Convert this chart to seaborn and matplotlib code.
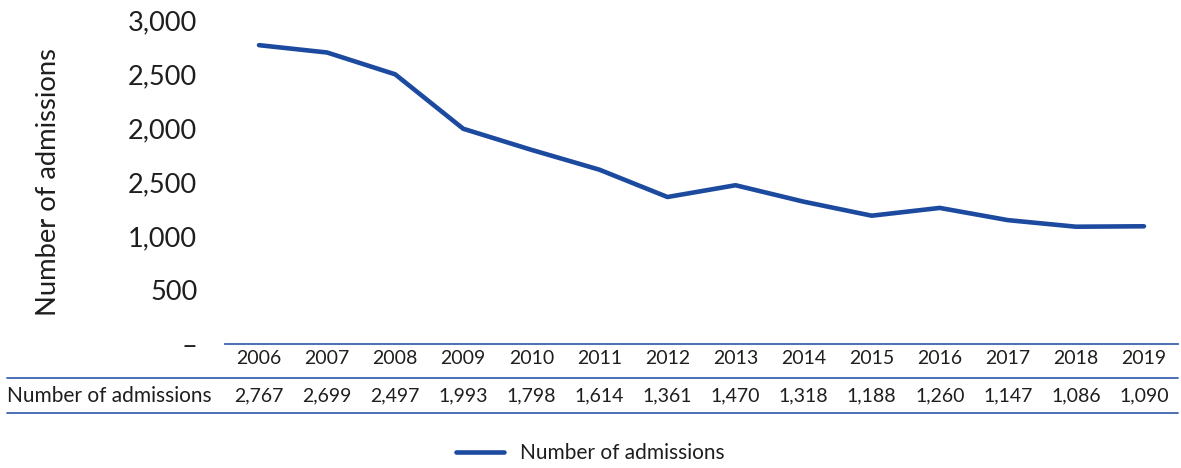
import matplotlib
matplotlib.use('Agg')
import matplotlib.pyplot as plt
import matplotlib.transforms as mtransforms
from matplotlib.lines import Line2D
import numpy as np
import pandas as pd
import seaborn as sns

#%%
'''Data'''
years = [2006, 2007, 2008, 2009, 2010, 2011, 2012, 2013, 2014, 2015, 2016, 2017, 2018, 2019]
admissions = [2767, 2699, 2497, 1993, 1798, 1614, 1361, 1470, 1318, 1188, 1260, 1147, 1086, 1090]
ytick_values = [0, 500, 1000, 1500, 2000, 2500, 3000]
ytick_labels = ['–', '500', '1,000', '2,500', '2,000', '2,500', '3,000']
series_name = 'Number of admissions'

df = pd.DataFrame({'year': years, 'admissions': admissions})

#%%
'''Plot'''
sns.set_style('white')
plt.rcParams['font.family'] = ['Lato', 'DejaVu Sans']

line_col = '#1c4a9f'
rule_col = '#3d64ad'
txt_col = '#1e1e1e'

W, H = 1181, 468
fig = plt.figure(figsize=(W / 100, H / 100), dpi=100)
ax = fig.add_axes([225 / W, (H - 344) / H, (1178 - 225) / W, (344 - 20) / H])

sns.lineplot(data=df, x='year', y='admissions', color=line_col,
             linewidth=3.3, ax=ax, legend=False)

ax.set_xlim(years[0] - 0.5, years[-1] + 0.5)
ax.set_ylim(0, 3000)
ax.set_xticks([])
ax.set_yticks(ytick_values)
ax.set_yticklabels(ytick_labels)
ax.tick_params(axis='y', length=0, pad=20, labelsize=19.5, labelcolor=txt_col)
ax.set_xlabel('')
ax.set_ylabel(series_name, fontsize=19.7, color=txt_col)
ax.yaxis.set_label_coords(-0.172, 0.5)

for s in ['top', 'right', 'left']:
    ax.spines[s].set_visible(False)
ax.spines['bottom'].set_color(rule_col)
ax.spines['bottom'].set_linewidth(1.3)

#data table below the axis
trans = mtransforms.blended_transform_factory(ax.transData, fig.transFigure)
for yr, val in zip(years, admissions):
    ax.text(yr, 1 - 359 / H, str(yr), transform=trans, ha='center', va='center',
            fontsize=14, color=txt_col)
    ax.text(yr, 1 - 396 / H, f'{val:,}', transform=trans, ha='center', va='center',
            fontsize=14, color=txt_col)
fig.text(7 / W, 1 - 396 / H, series_name, ha='left', va='center',
         fontsize=15, color=txt_col)

for yy in [378, 413]:
    fig.add_artist(Line2D([7 / W, 1178 / W], [1 - yy / H, 1 - yy / H],
                          transform=fig.transFigure, color=rule_col, lw=1.3))

handle = Line2D([], [], color=line_col, lw=3.3)
fig.legend([handle], [series_name], loc='center', bbox_to_anchor=(0.5, 1 - 453 / H),
           frameon=False, fontsize=15, handlelength=2.3, handletextpad=0.75,
           labelcolor=txt_col)

plt.savefig('out.png', dpi=100)
